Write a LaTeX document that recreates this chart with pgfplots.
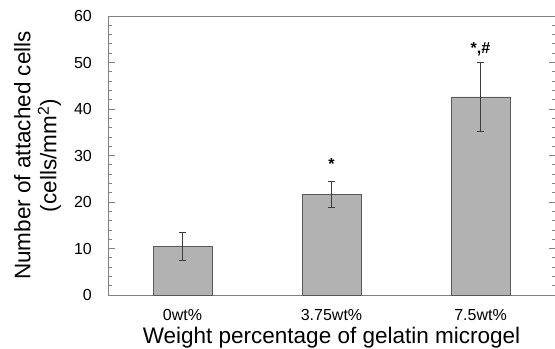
\documentclass[border=0pt]{standalone}
\usepackage{fontspec}
\setmainfont{Liberation Sans}
\usepackage{pgfplots}
\pgfplotsset{compat=1.18}
\definecolor{framegray}{HTML}{808080}
\definecolor{barfill}{HTML}{B2B2B2}
\definecolor{baredge}{HTML}{5A5A5A}
\definecolor{errgray}{HTML}{3C3C3C}
\begin{document}
\begin{tikzpicture}
\begin{axis}[
  scale only axis, width=447pt, height=279pt,
  ybar, bar width=59pt,
  xmin=-0.5, xmax=2.5, ymin=0, ymax=60,
  xtick={0,1,2}, xticklabels={0wt\%,3.75wt\%,7.5wt\%},
  ytick={0,10,...,60}, minor y tick num=4,
  /pgf/number format/assume math mode=true,
  axis line style={framegray, line width=0.8pt},
  xtick style={draw=none},
  ytick style={framegray, line width=0.8pt},
  tick align=inside,
  major tick length=6.5pt, minor tick length=3.5pt,
  xtick pos=bottom, ytick pos=both, yticklabel pos=left,
  xticklabel style={font=\fontsize{16}{19}\selectfont, anchor=base, inner sep=0pt, yshift=-25pt},
  yticklabel style={font=\fontsize{16}{19}\selectfont, anchor=east, inner sep=0pt, xshift=-16pt},
  xlabel={Weight percentage of gelatin microgel},
  xlabel style={font=\fontsize{22.5}{26}\selectfont, at={(axis description cs:0.5,0)}, anchor=base, inner sep=0pt, yshift=-48pt},
  ylabel={Number of attached cells\\(cells/mm\textsuperscript{2})},
  ylabel style={font=\fontsize{22.5}{26}\selectfont, align=center, at={(axis description cs:-0.1577,0.5)}, anchor=center, inner sep=0pt},
]
\addplot[fill=barfill, draw=baredge, line width=0.8pt,
  error bars/.cd, y dir=both, y explicit,
  error bar style={errgray, line width=0.8pt},
  error mark options={errgray, mark size=3.5pt, line width=0.8pt, rotate=90}]
  table[x=x, y=y, y error=e] {
x y e
0 10.5 3.0
1 21.7 2.8
2 42.6 7.5
};
\node[anchor=base, font=\fontsize{16}{19}\selectfont\bfseries] at (axis cs:1,26.9) {*};
\node[anchor=base, font=\fontsize{16}{19}\selectfont\bfseries] at (axis cs:2,52.0) {*,\#};
\end{axis}
\pgfresetboundingbox
\path[use as bounding box] ([xshift=-108pt,yshift=-53pt]current axis.south west) rectangle ([yshift=16pt]current axis.north east);
\end{tikzpicture}
\end{document}
